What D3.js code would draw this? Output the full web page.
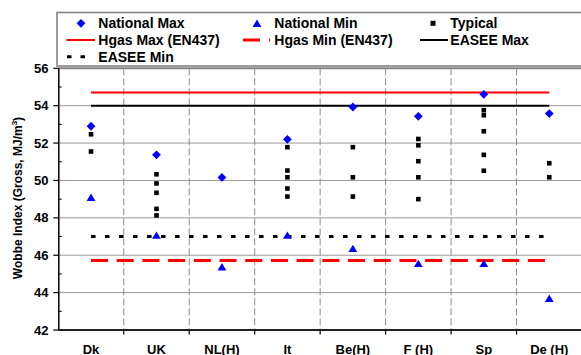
<!DOCTYPE html>
<html><head><meta charset="utf-8">
<script src="https://cdn.jsdelivr.net/npm/d3@7"></script>
<style>
html,body{margin:0;padding:0;background:#fff;}
svg{display:block;font-family:"Liberation Sans",Arial,sans-serif;font-weight:bold;}
</style></head>
<body><svg id="c" width="581" height="355"></svg>
<script>
// ---- data ----
const categories = ["Dk","UK","NL(H)","It","Be(H)","F (H)","Sp","De (H)"];
const nationalMax = [52.9, 51.37, 50.16, 52.2, 53.93, 53.43, 54.61, 53.58];
const nationalMin = [49.1, 47.07, 45.38, 47.07, 46.36, 45.56, 45.56, 43.69];
const typical = [
  [52.47, 51.55],
  [50.33, 49.84, 49.34, 48.48, 48.13],
  [],
  [51.78, 50.53, 50.17, 49.57, 49.14],
  [51.78, 50.17, 49.14],
  [52.22, 51.88, 51.03, 50.17, 49.0],
  [53.76, 53.49, 52.63, 51.37, 50.52],
  [50.92, 50.17]
];
const hgasMax = 54.7;
const hgasMin = 45.72;
const easeeMax = 54.0;
const easeeMin = 47.0;
const yTicks = [42, 44, 46, 48, 50, 52, 54, 56];
const yMinorTicks = [43, 45, 47, 49, 51, 53, 55];
const yTitle = "Wobbe Index (Gross, MJ/m";
const legendItems = [
  {name:"National Max", type:"diamond"},
  {name:"National Min", type:"triangle"},
  {name:"Typical", type:"square"},
  {name:"Hgas Max (EN437)", type:"redSolid"},
  {name:"Hgas Min (EN437)", type:"redDash"},
  {name:"EASEE Max", type:"blackSolid"},
  {name:"EASEE Min", type:"blackDot"}
];

// ---- layout ----
const svg = d3.select("#c");
const pL = 58.8, pR = 582, pT = 68.3, pB = 330;
const x = d3.scaleBand().domain(categories).range([pL - 0.5, pR]).padding(0);
const y = d3.scaleLinear().domain([42, 56]).range([pB, pT]);
const cx = c => x(c) + x.bandwidth() / 2;

// horizontal gridlines
svg.append("g").selectAll("line").data(yTicks.filter(t => t > 42 && t < 56)).join("line")
  .attr("x1", pL).attr("x2", 581).attr("y1", d => y(d)).attr("y2", d => y(d))
  .attr("stroke", "#9a9a9a").attr("stroke-width", 1);

// vertical dashed gridlines at category boundaries
svg.append("g").selectAll("line").data(categories.slice(1)).join("line")
  .attr("x1", d => x(d)).attr("x2", d => x(d)).attr("y1", pT).attr("y2", pB)
  .attr("stroke", "#8a8a8a").attr("stroke-width", 1).attr("stroke-dasharray", "7,3");

// plot top border
svg.append("line").attr("x1", pL).attr("x2", 581).attr("y1", pT).attr("y2", pT)
  .attr("stroke", "#858585").attr("stroke-width", 2);

// reference lines
const x0 = cx(categories[0]), x1 = cx(categories[categories.length - 1]);
function refLine(v, color, width, dash) {
  const l = svg.append("line").attr("x1", x0).attr("x2", x1).attr("y1", y(v)).attr("y2", y(v))
    .attr("stroke", color).attr("stroke-width", width);
  if (dash) l.attr("stroke-dasharray", dash);
}
refLine(easeeMin, "#000", 3, "4.5,9.5");
refLine(hgasMin, "#ff0000", 3, "17,8.7");
refLine(easeeMax, "#000", 2);
refLine(hgasMax, "#ff0000", 2);

// axes
const yAxis = svg.append("g");
yAxis.append("line").attr("x1", pL).attr("x2", pL).attr("y1", pT).attr("y2", pB)
  .attr("stroke", "#000").attr("stroke-width", 1.5);
yAxis.selectAll("line.maj").data(yTicks).join("line").attr("class","maj")
  .attr("x1", pL - 5.5).attr("x2", pL).attr("y1", d => y(d)).attr("y2", d => y(d))
  .attr("stroke", "#000").attr("stroke-width", 1.2);
yAxis.selectAll("line.mnr").data(yMinorTicks).join("line").attr("class","mnr")
  .attr("x1", pL).attr("x2", pL + 3).attr("y1", d => y(d)).attr("y2", d => y(d))
  .attr("stroke", "#000").attr("stroke-width", 1);
yAxis.selectAll("text").data(yTicks).join("text")
  .attr("x", 48.5).attr("y", d => y(d) + 4.6).attr("text-anchor", "end")
  .attr("font-size", 13).attr("fill", "#000").text(d => d);

const xAxis = svg.append("g");
xAxis.append("line").attr("x1", pL - 0.7).attr("x2", 581).attr("y1", pB).attr("y2", pB)
  .attr("stroke", "#222").attr("stroke-width", 2.2);
xAxis.selectAll("line.t").data(categories.slice(1)).join("line").attr("class","t")
  .attr("x1", d => x(d)).attr("x2", d => x(d)).attr("y1", pB).attr("y2", pB + 4.5)
  .attr("stroke", "#000").attr("stroke-width", 1.2);
xAxis.selectAll("text").data(categories).join("text")
  .attr("x", d => cx(d)).attr("y", 353.5).attr("text-anchor", "middle")
  .attr("font-size", 13).attr("fill", "#000").text(d => d);

// y title
const yt = svg.append("text").attr("transform", "translate(22,198) rotate(-90)")
  .attr("text-anchor", "middle").attr("font-size", 12).attr("fill", "#000");
yt.append("tspan").text(yTitle);
yt.append("tspan").attr("font-size", 8).attr("dy", -5).text("3");
yt.append("tspan").attr("dy", 5).text(")");

// marker shapes
const diamondPath = "M0,-4.4L4.4,0L0,4.4L-4.4,0Z";
const trianglePath = "M0,-3.8L4.4,3.6L-4.4,3.6Z";

// typical points
const typData = [];
categories.forEach((c, i) => typical[i].forEach(v => typData.push({c, v})));
svg.append("g").selectAll("rect").data(typData).join("rect")
  .attr("x", d => cx(d.c) - 2.3).attr("y", d => y(d.v) - 2.3)
  .attr("width", 4.6).attr("height", 4.6).attr("fill", "#000");

// national max
svg.append("g").selectAll("path").data(categories).join("path")
  .attr("transform", (d, i) => `translate(${cx(d)},${y(nationalMax[i])})`)
  .attr("d", diamondPath).attr("fill", "#0000ff");
// national min
svg.append("g").selectAll("path").data(categories).join("path")
  .attr("transform", (d, i) => `translate(${cx(d)},${y(nationalMin[i])})`)
  .attr("d", trianglePath).attr("fill", "#0000ff");

// legend
const lg = svg.append("g");
lg.append("rect").attr("x", 57).attr("y", 12.5).attr("width", 540).attr("height", 53.5)
  .attr("fill", "#fff").attr("stroke", "#858585").attr("stroke-width", 1.6);
const colX = [81, 257, 433], rowY = [23.3, 40, 56.7];
legendItems.forEach((it, i) => {
  const col = i % 3, row = Math.floor(i / 3);
  const mx = colX[col], my = rowY[row];
  const g = lg.append("g");
  if (it.type === "diamond") g.append("path").attr("transform", `translate(${mx},${my})`).attr("d", diamondPath).attr("fill", "#0000ff");
  if (it.type === "triangle") g.append("path").attr("transform", `translate(${mx},${my})`).attr("d", trianglePath).attr("fill", "#0000ff");
  if (it.type === "square") g.append("rect").attr("x", mx - 2.5).attr("y", my - 2.5).attr("width", 5).attr("height", 5).attr("fill", "#000");
  if (it.type === "redSolid") g.append("line").attr("x1", mx - 14.5).attr("x2", mx + 14).attr("y1", my).attr("y2", my).attr("stroke", "#ff0000").attr("stroke-width", 2);
  if (it.type === "redDash") g.append("line").attr("x1", mx - 14).attr("x2", mx + 13).attr("y1", my).attr("y2", my).attr("stroke", "#ff0000").attr("stroke-width", 3).attr("stroke-dasharray", "17,9");
  if (it.type === "blackSolid") g.append("line").attr("x1", mx - 13).attr("x2", mx + 15).attr("y1", my).attr("y2", my).attr("stroke", "#000").attr("stroke-width", 2);
  if (it.type === "blackDot") g.append("line").attr("x1", mx - 14).attr("x2", mx + 4.5).attr("y1", my).attr("y2", my).attr("stroke", "#000").attr("stroke-width", 3).attr("stroke-dasharray", "4.5,9");
  g.append("text").attr("x", mx + 17.3).attr("y", my + 5.1).attr("font-size", 14).attr("fill", "#000").text(it.name);
});
</script></body></html>
